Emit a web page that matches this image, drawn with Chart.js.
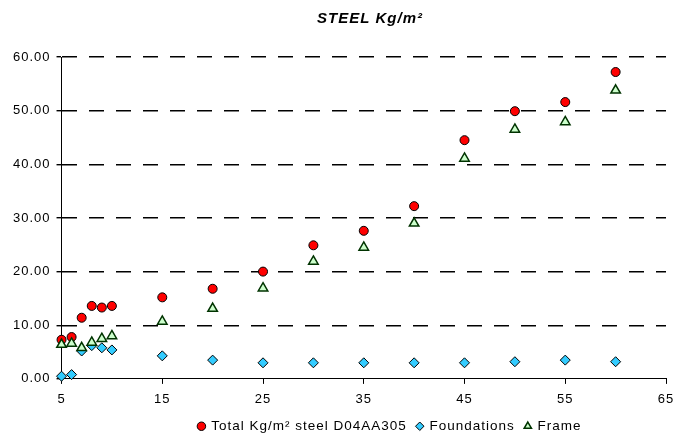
<!DOCTYPE html>
<html>
<head>
<meta charset="utf-8">
<script src="https://cdn.jsdelivr.net/npm/chart.js@4"></script>
<style>
  html, body { margin: 0; padding: 0; background: #fff; }
  #wrap { width: 675px; height: 441px; }
</style>
</head>
<body>
<div id="wrap"><canvas id="steelChart"></canvas></div>
<script>
// span values (x axis)
const spans = [5, 6, 7, 8, 9, 10, 15, 20, 25, 30, 35, 40, 45, 50, 55, 60];
// Kg/m2
const totalSteel = [7.3, 7.8, 11.4, 13.6, 13.3, 13.6, 15.2, 16.8, 20.0, 24.9, 27.6, 32.2, 44.5, 49.9, 51.6, 57.2];
const foundations = [0.5, 0.8, 5.2, 6.2, 5.8, 5.4, 4.3, 3.5, 3.0, 3.0, 3.0, 3.0, 3.0, 3.2, 3.5, 3.2];
const frame = [6.4, 6.6, 5.8, 6.8, 7.5, 8.0, 10.7, 13.1, 16.9, 21.9, 24.5, 29.0, 41.1, 46.5, 47.9, 53.8];

const seriesNames = ['Total Kg/m\u00b2 steel D04AA305', 'Foundations', 'Frame'];

const toPoints = (vals) => spans.map((s, i) => ({ x: s, y: vals[i] }));

const fontFamily = "'Liberation Sans', Arial, sans-serif";

// the original text is set a bit loose
const spacing = {
  id: 'spacing',
  beforeLayout(chart) { chart.ctx.letterSpacing = '1px'; },
  beforeDraw(chart) { chart.ctx.letterSpacing = '1px'; }
};

// move title and legend so they sit where the original has them
const shiftBoxes = {
  id: 'shiftBoxes',
  afterLayout(chart) {
    const t = chart.titleBlock;
    if (t) {
      let d = 370 - (t.left + t.right) / 2;
      t.left += d; t.right += d;
    }
    const lg = chart.legend;
    if (lg) {
      let d = 390 - (lg.left + lg.right) / 2;
      lg.left += d; lg.right += d;
    }
  }
};

const ctx = document.getElementById('steelChart').getContext('2d');

new Chart(ctx, {
  type: 'scatter',
  data: {
    datasets: [
      {
        label: seriesNames[0],
        data: toPoints(totalSteel),
        pointStyle: 'circle',
        pointRadius: 4.5,
        backgroundColor: '#ff0000',
        borderColor: '#000000',
        borderWidth: 1,
        clip: false,
        order: 3
      },
      {
        label: seriesNames[1],
        data: toPoints(foundations),
        pointStyle: 'rectRot',
        pointRadius: 5,
        backgroundColor: '#33ccff',
        borderColor: '#000000',
        borderWidth: 1,
        clip: false,
        order: 2
      },
      {
        label: seriesNames[2],
        data: toPoints(frame),
        pointStyle: 'triangle',
        pointRadius: 5.5,
        backgroundColor: '#ccffcc',
        borderColor: '#003300',
        borderWidth: 1.5,
        clip: false,
        order: 1
      }
    ]
  },
  options: {
    responsive: true,
    maintainAspectRatio: false,
    animation: false,
    layout: { padding: { top: 6, bottom: -2, left: 7, right: 0 } },
    plugins: {
      title: {
        display: true,
        text: 'STEEL Kg/m\u00b2',
        color: '#000',
        font: { family: fontFamily, size: 15, weight: 'bold', style: 'italic' },
        padding: { top: 4, bottom: 29 }
      },
      legend: {
        position: 'bottom',
        labels: {
          usePointStyle: true,
          boxWidth: 6,
          boxHeight: 6,
          padding: 10,
          color: '#000',
          font: { family: fontFamily, size: 13.5 },
          sort: (a, b) => a.datasetIndex - b.datasetIndex
        }
      },
      tooltip: { enabled: false }
    },
    scales: {
      x: {
        type: 'linear',
        min: 5,
        max: 65,
        afterFit: (s) => { s.height -= 6; s.paddingRight = 9; },
        ticks: {
          stepSize: 10,
          color: '#000',
          font: { family: fontFamily, size: 13 },
          padding: 8
        },
        grid: {
          drawOnChartArea: false,
          drawTicks: true,
          tickLength: 5,
          tickColor: '#000'
        },
        border: { color: '#000', width: 1 }
      },
      y: {
        min: 0,
        max: 60,
        ticks: {
          stepSize: 10,
          color: '#000',
          font: { family: fontFamily, size: 13 },
          padding: 6,
          callback: (v) => v.toFixed(2)
        },
        grid: {
          color: (c) => c.tick.value === 0 ? 'rgba(0,0,0,0)' : '#000',
          lineWidth: 1.4,
          tickLength: 5,
          tickColor: '#000',
          tickBorderDash: []
        },
        border: { color: '#000', width: 1, dash: [15, 12] }
      }
    }
  },
  plugins: [spacing, shiftBoxes]
});
</script>
</body>
</html>
